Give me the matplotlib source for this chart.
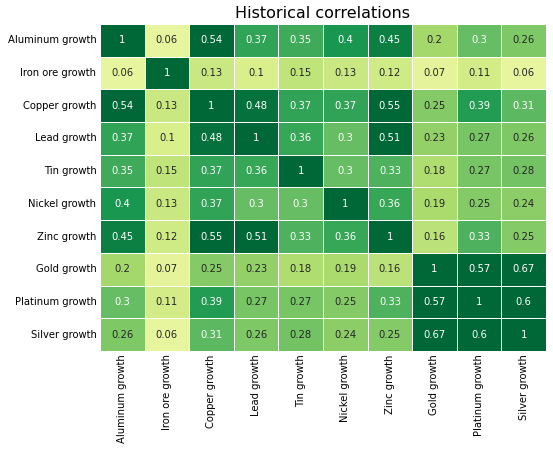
import numpy as np
import pandas as pd
import seaborn as sns
import matplotlib
matplotlib.use("Agg")
import matplotlib.pyplot as plt

# Commodity names (rows and columns are the same)
names = ["Aluminum growth", "Iron ore growth", "Copper growth", "Lead growth",
         "Tin growth", "Nickel growth", "Zinc growth", "Gold growth",
         "Platinum growth", "Silver growth"]

# Correlation values, one list per row
aluminum = [1, 0.06, 0.54, 0.37, 0.35, 0.4, 0.45, 0.2, 0.3, 0.26]
iron_ore = [0.06, 1, 0.13, 0.1, 0.15, 0.13, 0.12, 0.07, 0.11, 0.06]
copper = [0.54, 0.13, 1, 0.48, 0.37, 0.37, 0.55, 0.25, 0.39, 0.31]
lead = [0.37, 0.1, 0.48, 1, 0.36, 0.3, 0.51, 0.23, 0.27, 0.26]
tin = [0.35, 0.15, 0.37, 0.36, 1, 0.3, 0.33, 0.18, 0.27, 0.28]
nickel = [0.4, 0.13, 0.37, 0.3, 0.3, 1, 0.36, 0.19, 0.25, 0.24]
zinc = [0.45, 0.12, 0.55, 0.51, 0.33, 0.36, 1, 0.16, 0.33, 0.25]
gold = [0.2, 0.07, 0.25, 0.23, 0.18, 0.19, 0.16, 1, 0.57, 0.67]
platinum = [0.3, 0.11, 0.39, 0.27, 0.27, 0.25, 0.33, 0.57, 1, 0.6]
silver = [0.26, 0.06, 0.31, 0.26, 0.28, 0.24, 0.25, 0.67, 0.6, 1]

corr = pd.DataFrame([aluminum, iron_ore, copper, lead, tin, nickel, zinc,
                     gold, platinum, silver], index=names, columns=names)

fig = plt.figure(figsize=(553 / 72, 450 / 72), dpi=72)
ax = fig.add_axes([0.1808, 0.22, 0.8065, 0.7267])

sns.heatmap(corr, ax=ax, annot=True, cmap="RdYlGn", vmin=-0.5, vmax=0.5,
            linewidths=0.5, linecolor="white", cbar=False,
            annot_kws={"fontsize": 10})

ax.set_title("Historical correlations", fontsize=16)
ax.tick_params(length=0, labelsize=10)
plt.xticks(rotation=90)
plt.yticks(rotation=0)

plt.savefig("out.png", dpi=72)
